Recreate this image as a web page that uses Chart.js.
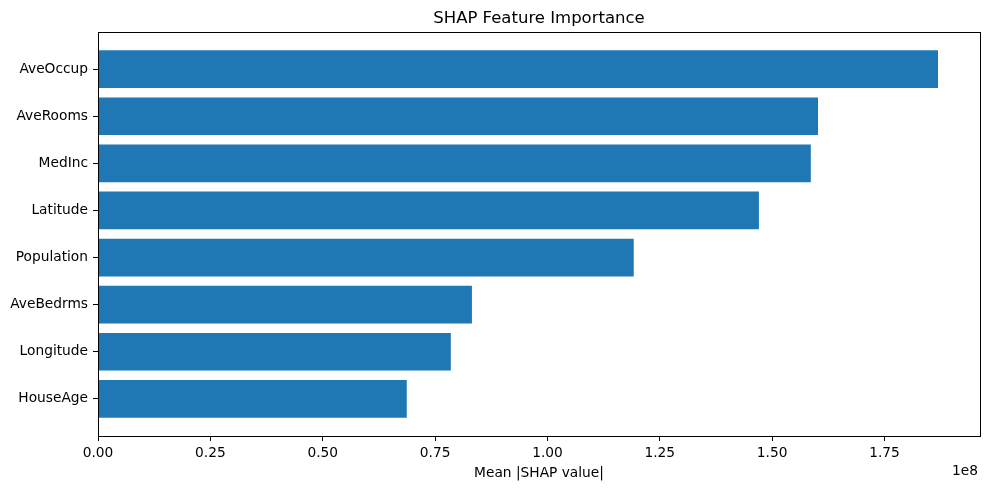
<!DOCTYPE html>
<html><head><meta charset="utf-8">
<script src="https://cdn.jsdelivr.net/npm/chart.js@4/dist/chart.umd.min.js"></script>
<style>html,body{margin:0;padding:0;background:#fff}#wrap{width:990px;height:490px}</style>
</head><body><div id="wrap"><canvas id="c" width="990" height="490"></canvas></div>
<script>
// ---- data ----
const features = ['HouseAge', 'Longitude', 'AveBedrms', 'Population', 'Latitude', 'MedInc', 'AveRooms', 'AveOccup'];
const meanAbsShap = [0.687e8, 0.785e8, 0.832e8, 1.192e8, 1.4705e8, 1.586e8, 1.602e8, 1.869e8];
const xTickValues = [0, 0.25e8, 0.5e8, 0.75e8, 1.0e8, 1.25e8, 1.5e8, 1.75e8];
const titleText = 'SHAP Feature Importance';
const xAxisLabel = 'Mean |SHAP value|';
const offsetText = '1e8';

Chart.defaults.font.family = "'DejaVu Sans', sans-serif";
Chart.defaults.color = '#000';

const framePlugin = {
  id: 'frame',
  afterDatasetsDraw(chart) {
    const {ctx, chartArea: a} = chart;
    ctx.save();
    ctx.strokeStyle = '#000';
    ctx.lineWidth = 1;
    ctx.strokeRect(Math.round(a.left) + 0.5, Math.round(a.top) + 0.5, Math.round(a.right - a.left), Math.round(a.bottom - a.top));
    ctx.restore();
  },
  afterDraw(chart) {
    const {ctx, chartArea: a} = chart;
    ctx.save();
    ctx.fillStyle = '#000';
    ctx.textBaseline = 'alphabetic';
    ctx.font = "16.5px 'DejaVu Sans'";
    ctx.textAlign = 'center';
    ctx.fillText(titleText, (a.left + a.right) / 2, 23);
    ctx.font = "13.75px 'DejaVu Sans'";
    ctx.textAlign = 'right';
    ctx.fillText(offsetText, a.right - 2, 475);
    ctx.restore();
  }
};

const n = features.length;
new Chart(document.getElementById('c'), {
  type: 'bar',
  data: {
    datasets: [{
      data: meanAbsShap.map((v, i) => ({x: v, y: i})),
      backgroundColor: '#1f77b4',
      borderWidth: 0,
      barPercentage: 0.8,
      categoryPercentage: 1.0
    }]
  },
  options: {
    indexAxis: 'y',
    responsive: false,
    animation: false,
    devicePixelRatio: 1,
    layout: {padding: {top: 32, left: 0, right: 10, bottom: 0}},
    plugins: {legend: {display: false}, tooltip: {enabled: false}, title: {display: false}},
    scales: {
      y: {
        type: 'linear',
        offset: false,
        min: -0.4 - 0.05 * (n - 1 + 0.8),
        max: n - 1 + 0.4 + 0.05 * (n - 1 + 0.8),
        afterBuildTicks(axis) { axis.ticks = features.map((f, i) => ({value: i})); },
        afterFit(axis) { axis.width = 98; },
        ticks: {
          autoSkip: false,
          padding: 5,
          font: {size: 13.75},
          color: '#000',
          callback: (v) => features[v]
        },
        grid: {display: true, offset: false, drawOnChartArea: false, drawTicks: true, tickLength: 5, color: '#000'},
        border: {display: false}
      },
      x: {
        type: 'linear',
        offset: false,
        min: 0,
        max: Math.max(...meanAbsShap) * 1.05,
        afterBuildTicks(axis) { axis.ticks = xTickValues.map(v => ({value: v})); },
        afterFit(axis) { axis.height = 54; },
        ticks: {
          autoSkip: false,
          padding: 4,
          font: {size: 13.75},
          color: '#000',
          maxRotation: 0,
          callback: (v) => (v / 1e8).toFixed(2)
        },
        grid: {display: true, offset: false, drawOnChartArea: false, drawTicks: true, tickLength: 5, color: '#000'},
        border: {display: false},
        title: {display: true, text: xAxisLabel, font: {size: 13.75}, color: '#000', padding: {top: 0, bottom: 8}}
      }
    }
  },
  plugins: [framePlugin]
});
</script>
</body></html>
